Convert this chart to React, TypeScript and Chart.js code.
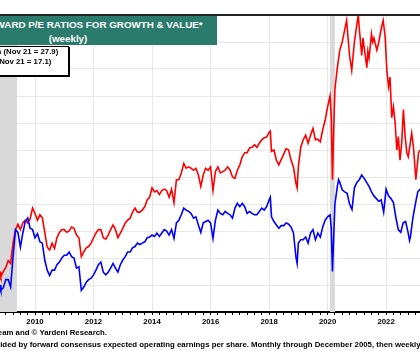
import React, { useEffect, useRef } from 'react';
import { Chart, registerables } from 'chart.js';

Chart.register(...registerables);

// time axis: months since January 2008
const growthMonths = [
  8, 9.5, 10, 11, 12, 13, 14, 14.5, 15, 16, 17, 18, 19, 20, 21, 22, 23, 24, 25, 26, 27, 28, 29, 30, 31, 32, 33, 34, 35, 36,
  37, 38, 39, 40, 41, 42, 43, 44, 45, 46, 47, 48, 49, 50, 51, 52, 53, 54, 55, 56, 57, 58, 59, 60, 61, 62, 63, 64, 65, 66,
  67, 68, 69, 70, 71, 72, 73, 74, 75, 76, 77, 78, 79, 80, 81, 82, 83, 84, 85, 86, 87, 88, 89, 90, 91, 92, 93, 94, 95, 96,
  97, 98, 99, 100, 101, 102, 103, 104, 105, 106, 107, 108, 109, 110, 111, 112, 113, 114, 115, 116, 117, 118, 119, 120, 120.5, 121,
  122, 123, 124, 125, 126, 127, 128, 129, 130, 131, 131.5, 132, 133, 134, 135, 136, 137, 138, 139, 140, 141, 142, 143, 144, 145,
  145.5, 146, 146.5, 147, 148, 149, 150, 151, 151.8, 153, 153.9, 155, 156, 156.6, 157, 158, 158.5, 159, 160.1, 160.5, 161, 162,
  162.5, 163, 164.2, 165, 166, 166.8, 167.6, 168.3, 169, 169.6, 170.3, 171, 171.7, 172.4, 173, 173.7, 174.4, 175.1, 175.8, 176.5,
  177.1, 178.5, 179.2, 180.2, 181.3, 182, 183,
];
const growthPE = [
  11.5, 11.0, 10.6, 11.0, 11.3, 11.8, 11.6, 12.4, 13.1, 14.1, 14.5, 14.1, 14.6, 14.8, 14.6, 14.9, 15.7, 15.3, 14.8, 15.2, 15.0, 13.9, 12.8, 12.6, 13.1, 12.7, 13.5, 13.9, 14.1, 14.1,
  13.9, 14.0, 14.3, 14.2, 13.7, 13.5, 12.1, 12.45, 12.75, 12.85, 13.1, 13.5, 13.85, 14.1, 14.1, 13.5, 13.4, 13.7, 14.1, 14.45, 14.1, 13.5, 13.85, 14.2, 14.6, 14.8, 14.95, 15.4, 15.7, 15.4,
  15.4, 15.55, 15.8, 16.3, 16.5, 17.2, 16.9, 17.0, 16.7, 17.0, 17.1, 17.0, 16.5, 17.1, 16.1, 17.8, 17.8, 18.3, 19.0, 18.65, 18.75, 18.65, 18.5, 18.65, 18.15, 17.3, 18.15, 18.65, 18.5, 18.75,
  17.0, 18.4, 18.75, 18.3, 18.4, 18.5, 18.75, 18.5, 18.0, 17.9, 18.5, 18.9, 19.5, 19.8, 19.8, 20.15, 20.2, 20.4, 20.2, 20.5, 20.75, 20.9, 20.95, 21.3, 21.4, 19.9,
  20.0, 19.25, 18.9, 19.3, 19.7, 20.1, 20.0, 19.25, 18.75, 17.55, 17.2, 18.75, 20.2, 20.75, 21.1, 20.5, 21.1, 21.6, 20.75, 20.8, 20.6, 21.5, 22.2, 23.2, 24.0,
  22.5, 17.8, 21.5, 24.5, 26.1, 27.4, 28.0, 28.9, 29.6, 27.0, 25.9, 28.0, 29.3, 30.0, 29.0, 27.0, 28.3, 27.6, 26.1, 27.3, 26.8, 28.6,
  28.0, 28.3, 27.4, 28.0, 29.0, 29.6, 28.4, 25.9, 24.7, 25.4, 22.4, 23.2, 22.0, 20.0, 21.0, 19.25, 20.5, 23.0, 21.0, 19.8,
  19.5, 21.25, 20.25, 17.8, 19.8, 20.0, 20.4,
];

const valueMonths = [
  8, 9.5, 10, 11, 12, 13, 14, 14.5, 15, 16, 17, 18, 19, 20, 21, 22, 23, 24, 25, 26, 27, 28, 29, 30, 31, 32, 33, 34, 35, 36,
  37, 38, 39, 40, 41, 42, 43, 44, 45, 46, 47, 48, 49, 50, 51, 52, 53, 54, 55, 56, 57, 58, 59, 60, 61, 62, 63, 64, 65, 66,
  67, 68, 69, 70, 71, 72, 73, 74, 75, 76, 77, 78, 79, 80, 81, 82, 83, 84, 85, 86, 87, 88, 89, 90, 91, 92, 93, 94, 95, 96,
  97, 98, 99, 100, 101, 102, 103, 104, 105, 106, 107, 108, 109, 110, 111, 112, 113, 114, 115, 116, 117, 118, 119, 120, 120.5, 121,
  122, 123, 124, 125, 126, 127, 128, 129, 130, 131, 131.5, 132, 133, 134, 135, 136, 137, 138, 139, 140, 141, 142, 143, 144, 145,
  145.5, 146, 146.5, 147, 148, 148.5, 149, 150, 151, 152, 153, 154, 155, 156, 157, 158, 159, 160, 161, 162, 163, 164, 165, 166,
  167, 168, 169, 170, 171, 172, 173, 174, 175, 176, 177, 177.6, 178, 179, 180, 181, 182, 183,
];
const valuePE = [
  10.5, 10.0, 9.6, 9.8, 10.4, 10.4, 9.85, 11.0, 12.1, 14.1, 13.9, 12.8, 13.85, 14.7, 14.96, 14.2, 14.1, 13.5, 13.8, 13.2, 13.1, 11.85, 11.1, 10.7, 11.1, 11.1, 11.5, 11.7, 12.0, 12.2,
  12.2, 12.45, 12.1, 12.0, 11.25, 11.35, 9.6, 9.85, 10.2, 10.4, 10.5, 10.75, 11.1, 11.5, 11.7, 10.95, 10.75, 10.95, 11.25, 11.6, 11.25, 10.95, 11.5, 11.85, 12.1, 12.45, 12.45, 12.75, 12.85, 13.1,
  13.0, 13.1, 13.2, 13.5, 13.55, 13.7, 13.6, 13.85, 13.6, 13.85, 14.1, 14.0, 13.7, 14.1, 13.45, 14.6, 14.8, 15.2, 15.7, 15.55, 15.45, 15.3, 14.95, 15.05, 14.45, 13.9, 14.6, 14.7, 14.8, 14.6,
  13.45, 14.8, 15.55, 15.3, 15.2, 15.45, 15.3, 15.2, 14.95, 15.7, 16.05, 15.8, 16.05, 15.8, 15.3, 15.45, 15.3, 15.2, 15.2, 15.45, 15.7, 15.55, 15.8, 16.3, 16.5, 15.05,
  14.7, 14.45, 14.2, 14.4, 14.4, 14.6, 14.5, 14.3, 13.85, 12.1, 11.6, 13.1, 13.35, 13.35, 13.55, 13.1, 13.85, 14.1, 13.35, 13.85, 13.55, 14.3, 14.8, 15.05, 15.2,
  14.2, 11.0, 13.5, 16.0, 17.3, 17.8, 17.6, 17.05, 16.9, 16.8, 16.0, 15.6, 17.2, 17.6, 17.8, 18.15, 17.9, 17.6, 17.3, 16.9, 16.6, 16.4, 16.2, 16.3,
  15.4, 17.1, 16.6, 16.4, 16.1, 15.0, 14.1, 13.9, 14.6, 14.7, 13.9, 13.3, 13.6, 15.0, 16.0, 16.9, 17.1, 17.1,
];

// recession shading, months since January 2008
const recessionStarts = [-1, 145];
const recessionEnds = [16.6, 147];

const labelledYears = [2010, 2012, 2014, 2016, 2018, 2020, 2022];
const yMin = 8;
const yMax = 30;
const yStep = 2;
const xMin = 9.64;
const xMax = 181.9;

const FONT = '"Liberation Sans", Arial, sans-serif';

const framePlugin = {
  id: 'frame',
  beforeDatasetsDraw(chart: any) {
    const { ctx, chartArea, scales } = chart;
    const { top, bottom, left, right } = chartArea;
    ctx.save();
    ctx.fillStyle = '#d9d9d9';
    recessionStarts.forEach((s, i) => {
      const x0 = Math.max(left, scales.x.getPixelForValue(s));
      const x1 = Math.min(right, scales.x.getPixelForValue(recessionEnds[i]));
      if (x1 > x0) ctx.fillRect(x0, top, x1 - x0, bottom - top);
    });
    ctx.restore();
  },
  afterDraw(chart: any) {
    const { ctx, chartArea } = chart;
    ctx.save();
    ctx.strokeStyle = '#222';
    ctx.lineWidth = 2;
    ctx.beginPath();
    ctx.moveTo(chartArea.left, chartArea.top);
    ctx.lineTo(chartArea.right, chartArea.top);
    ctx.stroke();
    ctx.restore();
  },
};

export default function App() {
  const ref = useRef<HTMLCanvasElement>(null);

  useEffect(() => {
    document.body.style.margin = '0';
    const canvas = ref.current;
    if (!canvas) return;
    const chart = new Chart(canvas, {
      type: 'line',
      data: {
        datasets: [
          {
            label: 'Value',
            data: valueMonths.map((m, i) => ({ x: m, y: valuePE[i] })),
            borderColor: '#0000ff',
            borderWidth: 1.6,
            pointRadius: 0,
            tension: 0,
          },
          {
            label: 'Growth',
            data: growthMonths.map((m, i) => ({ x: m, y: growthPE[i] })),
            borderColor: '#ff0000',
            borderWidth: 1.6,
            pointRadius: 0,
            tension: 0,
          },
        ],
      },
      options: {
        responsive: false,
        devicePixelRatio: 1,
        animation: false,
        events: [],
        layout: { padding: { top: 15, left: 0, right: 0, bottom: 0 } },
        plugins: { legend: { display: false }, tooltip: { enabled: false }, title: { display: false } },
        scales: {
          x: {
            type: 'linear',
            min: xMin,
            max: xMax,
            afterBuildTicks: (scale: any) => {
              const t = [];
              for (let m = 12; m <= 180; m += 3) t.push({ value: m });
              scale.ticks = t;
            },
            afterFit: (scale: any) => {
              scale.height = 39;
            },
            ticks: {
              autoSkip: false,
              maxRotation: 0,
              padding: 2,
              color: '#000',
              font: { family: FONT, size: 7.8, weight: 'bold' },
              callback: (v: any) => {
                const yr = 2008 + Number(v) / 12;
                return Number(v) % 12 === 0 && labelledYears.includes(yr) ? String(yr) : '';
              },
            },
            grid: {
              color: (c: any) => {
                const v = c.tick ? c.tick.value : NaN;
                return v % 12 === 0 && labelledYears.includes(2008 + v / 12) ? '#e8e8e8' : 'rgba(0,0,0,0)';
              },
              tickColor: '#000',
              tickLength: 3,
              lineWidth: 1,
            },
            border: { color: '#000', width: 2 },
          },
          y: {
            min: yMin,
            max: yMax,
            ticks: { stepSize: yStep, display: false },
            afterFit: (scale: any) => {
              scale.width = 0;
            },
            grid: { color: '#e8e8e8', drawTicks: false, lineWidth: 1 },
            border: { display: false },
          },
        },
      },
      plugins: [framePlugin],
    } as any);
    return () => chart.destroy();
  }, []);

  const bold = { fontFamily: FONT, fontWeight: 'bold' as const, whiteSpace: 'nowrap' as const };

  return (
    <div style={{ position: 'absolute', left: 0, top: 0, width: 420, height: 351, overflow: 'hidden', background: '#fff' }}>
      <canvas ref={ref} width={420} height={351} style={{ display: 'block', width: 420, height: 351 }} />
      <div
        style={{
          ...bold,
          position: 'absolute',
          left: -81,
          top: 16,
          width: 298,
          height: 29,
          background: '#2a7b6c',
          color: '#fff',
          fontSize: 9.8,
          lineHeight: '14px',
          paddingTop: 2,
          boxSizing: 'border-box',
          textAlign: 'center',
        }}
      >
        <div>S&amp;P 500 FORWARD P/E RATIOS FOR GROWTH &amp; VALUE*</div>
        <div>(weekly)</div>
      </div>
      <div
        style={{
          position: 'absolute',
          left: -70,
          top: 46,
          width: 137,
          height: 28,
          background: '#fff',
          border: '1px solid #000',
          boxShadow: '1px 1px 0 #000',
        }}
      >
        <div style={{ position: 'absolute', left: 10, top: 5, width: 26, height: 2, background: '#ff0000' }} />
        <div style={{ ...bold, position: 'absolute', left: 43, top: 0, fontSize: 7.8, lineHeight: '10px', color: '#000' }}>
          Growth (Nov 21 = 27.9)
        </div>
        <div style={{ position: 'absolute', left: 10, top: 15, width: 26, height: 2, background: '#0000ff' }} />
        <div style={{ ...bold, position: 'absolute', left: 43, top: 10, fontSize: 7.8, lineHeight: '10px', color: '#000' }}>
          Value (Nov 21 = 17.1)
        </div>
      </div>
      <div style={{ ...bold, position: 'absolute', right: 313, top: 327, fontSize: 7.8, lineHeight: '12px', color: '#000' }}>
        Source: LSEG Data &amp; Analytics I/B/E/S team and © Yardeni Research.
      </div>
      <div style={{ ...bold, position: 'absolute', left: -37.5, top: 339, fontSize: 7.8, lineHeight: '12px', color: '#000' }}>
        * Price divided by forward consensus expected operating earnings per share. Monthly through December 2005, then weekly.
      </div>
    </div>
  );
}
